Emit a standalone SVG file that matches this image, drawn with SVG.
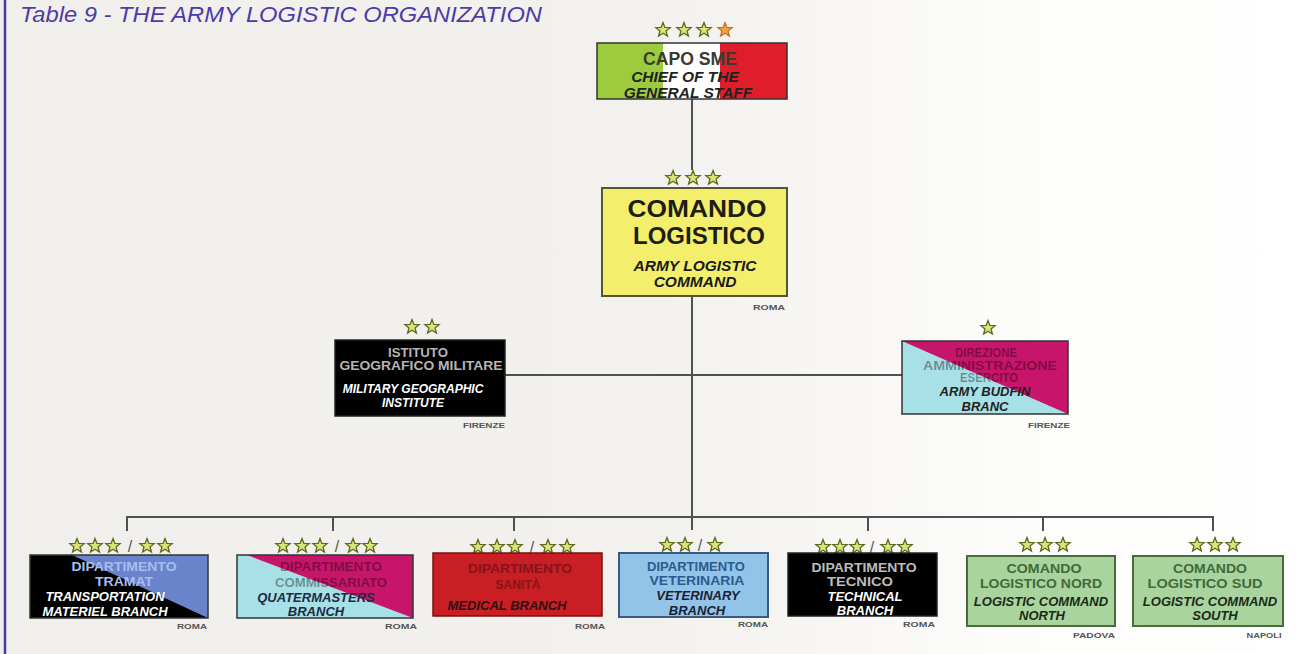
<svg xmlns="http://www.w3.org/2000/svg" xmlns:xlink="http://www.w3.org/1999/xlink" width="1300" height="654" viewBox="0 0 1300 654">
<defs>
<linearGradient id="bg" x1="0" y1="0" x2="1" y2="0">
<stop offset="0" stop-color="#f1efec"/>
<stop offset="0.5" stop-color="#f3f1ee"/>
<stop offset="0.68" stop-color="#f9f8f6"/>
<stop offset="0.8" stop-color="#fdfdfb"/>
<stop offset="1" stop-color="#ffffff"/>
</linearGradient>
<path id="st" d="M0,-7.5 L1.88,-2.59 L7.13,-2.32 L3.04,0.99 L4.41,6.07 L0,3.2 L-4.41,6.07 L-3.04,0.99 L-7.13,-2.32 L-1.88,-2.59 Z"/>
</defs>
<style>
.star{fill:#dde27a;stroke:#5b6b1e;stroke-width:1.3}
.ostar{fill:#f2a446;stroke:#c2742a;stroke-width:1.3}
.conn{stroke:#505050;stroke-width:2;fill:none}
.box{stroke:#333;stroke-width:1.5}
.en{font-family:"Liberation Sans",Arial,sans-serif;font-weight:bold;font-style:italic;text-anchor:middle}
.it{font-family:"Liberation Sans",Arial,sans-serif;font-weight:bold;text-anchor:middle}
.city{font-family:"Liberation Sans",Arial,sans-serif;font-weight:bold;font-size:7px;fill:#555;text-anchor:middle}
.sl{font-family:"Liberation Sans",Arial,sans-serif;font-size:16px;fill:#555;text-anchor:middle}
.dk{fill:#000;fill-opacity:0.38}
</style>
<rect x="0" y="0" width="1300" height="654" fill="url(#bg)"/>
<line x1="5" y1="0" x2="5" y2="654" stroke="#4a3aa0" stroke-width="2.5"/>
<text x="20" y="22" font-family="Liberation Sans,Arial,sans-serif" font-style="italic" font-size="22" fill="#4b3ca8" textLength="522" lengthAdjust="spacingAndGlyphs">Table 9 - THE ARMY LOGISTIC ORGANIZATION</text>

<g id="connectors">
<line class="conn" x1="692" y1="99" x2="692" y2="170"/>
<line class="conn" x1="692" y1="296" x2="692" y2="530"/>
<line class="conn" x1="505" y1="375" x2="902" y2="375"/>
<path class="conn" d="M127,531 V517 H1213 V531"/>
<line class="conn" x1="333" y1="517" x2="333" y2="531"/>
<line class="conn" x1="514" y1="517" x2="514" y2="531"/>
<line class="conn" x1="868" y1="517" x2="868" y2="531"/>
<line class="conn" x1="1043" y1="517" x2="1043" y2="531"/>
</g>

<g id="capo-sme">
<use href="#st" x="663" y="30" class="star"/>
<use href="#st" x="684" y="30" class="star"/>
<use href="#st" x="704" y="30" class="star"/>
<use href="#st" x="725" y="30" class="ostar"/>
<rect x="597" y="43" width="66" height="56" fill="#9dcb3e"/>
<rect x="663" y="43" width="57" height="56" fill="#ffffff"/>
<rect x="720" y="43" width="67" height="56" fill="#e01e2b"/>
<rect x="597" y="43" width="190" height="56" fill="none" class="box"/>
<text class="it" x="690" y="65" font-size="19" fill="#3a3a30" textLength="94" lengthAdjust="spacingAndGlyphs">CAPO SME</text>
<text class="en" x="685" y="82" font-size="15.5" fill="#222">CHIEF OF THE</text>
<text class="en" x="688" y="98" font-size="15.5" fill="#222">GENERAL STAFF</text>
</g>

<g id="comando-logistico">
<use href="#st" x="673" y="178" class="star"/>
<use href="#st" x="693" y="178" class="star"/>
<use href="#st" x="713" y="178" class="star"/>
<rect x="602" y="188" width="185" height="108" fill="#f3ef6c" stroke="#555530" stroke-width="2"/>
<text class="it" x="697" y="217" font-size="24" fill="#1e1e10" textLength="139" lengthAdjust="spacingAndGlyphs">COMANDO</text>
<text class="it" x="699" y="244" font-size="24" fill="#1e1e10" textLength="132" lengthAdjust="spacingAndGlyphs">LOGISTICO</text>
<text class="en" x="695" y="271" font-size="15.5" fill="#1a1a1a">ARMY LOGISTIC</text>
<text class="en" x="695" y="287" font-size="15.5" fill="#1a1a1a">COMMAND</text>
<text class="city" x="769" y="310" textLength="32" lengthAdjust="spacingAndGlyphs">ROMA</text>
</g>

<g id="istituto-geografico">
<use href="#st" x="412" y="327" class="star"/>
<use href="#st" x="432" y="327" class="star"/>
<rect x="335" y="340" width="170" height="76" fill="#000" stroke="#222" stroke-width="1.5"/>
<text class="it" x="418" y="357" font-size="12" fill="#b5b5b5" textLength="60" lengthAdjust="spacingAndGlyphs">ISTITUTO</text>
<text class="it" x="421" y="370" font-size="12" fill="#b5b5b5" textLength="163" lengthAdjust="spacingAndGlyphs">GEOGRAFICO MILITARE</text>
<text class="en" x="413" y="393" font-size="12" fill="#fff">MILITARY GEOGRAPHIC</text>
<text class="en" x="413" y="407" font-size="12" fill="#fff">INSTITUTE</text>
<text class="city" x="484" y="428" textLength="42" lengthAdjust="spacingAndGlyphs">FIRENZE</text>
</g>

<g id="direzione-amministrazione">
<use href="#st" x="988" y="328" class="star"/>
<rect x="902" y="341" width="166" height="73" fill="#a8e0e7"/>
<polygon points="902,341 1068,341 1068,414" fill="#c8156c"/>
<rect x="902" y="341" width="166" height="73" fill="none" class="box"/>
<text class="it dk" x="986" y="357" font-size="12" textLength="62" lengthAdjust="spacingAndGlyphs">DIREZIONE</text>
<text class="it dk" x="990" y="370" font-size="12" textLength="134" lengthAdjust="spacingAndGlyphs">AMMINISTRAZIONE</text>
<text class="it dk" x="989" y="382" font-size="12" textLength="58" lengthAdjust="spacingAndGlyphs">ESERCITO</text>
<text class="en" x="985" y="396" font-size="13" fill="#222">ARMY BUDFIN</text>
<text class="en" x="985" y="411" font-size="13" fill="#222">BRANC</text>
<text class="city" x="1049" y="428" textLength="42" lengthAdjust="spacingAndGlyphs">FIRENZE</text>
</g>

<g id="dipartimento-tramat">
<use href="#st" x="77" y="546" class="star"/>
<use href="#st" x="95" y="546" class="star"/>
<use href="#st" x="113" y="546" class="star"/>
<text class="sl" x="130" y="552">/</text>
<use href="#st" x="147" y="546" class="star"/>
<use href="#st" x="165" y="546" class="star"/>
<rect x="30" y="555" width="178" height="63" fill="#000"/>
<polygon points="72,555 208,555 208,618" fill="#6a84cc"/>
<rect x="30" y="555" width="178" height="63" fill="none" class="box"/>
<text class="it" x="124" y="571" font-size="12" fill="#a8bdf0" textLength="105" lengthAdjust="spacingAndGlyphs">DIPARTIMENTO</text>
<text class="it" x="124" y="586" font-size="12" fill="#a8bdf0" textLength="58" lengthAdjust="spacingAndGlyphs">TRAMAT</text>
<text class="en" x="105" y="601" font-size="13" fill="#fff">TRANSPORTATION</text>
<text class="en" x="105" y="616" font-size="13" fill="#fff">MATERIEL BRANCH</text>
<text class="city" x="192" y="629" textLength="30" lengthAdjust="spacingAndGlyphs">ROMA</text>
</g>

<g id="dipartimento-commissariato">
<use href="#st" x="283" y="546" class="star"/>
<use href="#st" x="302" y="546" class="star"/>
<use href="#st" x="320" y="546" class="star"/>
<text class="sl" x="337" y="552">/</text>
<use href="#st" x="353" y="546" class="star"/>
<use href="#st" x="370" y="546" class="star"/>
<rect x="237" y="555" width="176" height="63" fill="#a8e0e7"/>
<polygon points="247,555 413,555 413,618" fill="#c8156c"/>
<rect x="237" y="555" width="176" height="63" fill="none" class="box"/>
<text class="it dk" x="331" y="571" font-size="12" textLength="102" lengthAdjust="spacingAndGlyphs">DIPARTIMENTO</text>
<text class="it dk" x="331" y="587" font-size="12" textLength="112" lengthAdjust="spacingAndGlyphs">COMMISSARIATO</text>
<text class="en" x="316" y="602" font-size="13" fill="#1e2a40">QUATERMASTERS</text>
<text class="en" x="316" y="616" font-size="13" fill="#1e2a40">BRANCH</text>
<text class="city" x="401" y="629" textLength="32" lengthAdjust="spacingAndGlyphs">ROMA</text>
</g>

<g id="dipartimento-sanita">
<use href="#st" x="478" y="547" class="star"/>
<use href="#st" x="497" y="547" class="star"/>
<use href="#st" x="515" y="547" class="star"/>
<text class="sl" x="532" y="553">/</text>
<use href="#st" x="548" y="547" class="star"/>
<use href="#st" x="567" y="547" class="star"/>
<rect x="433" y="553" width="169" height="63" fill="#c81e24" stroke="#7a1010" stroke-width="1.5"/>
<text class="it" x="520" y="573" font-size="12" fill="#861418" textLength="104" lengthAdjust="spacingAndGlyphs">DIPARTIMENTO</text>
<text class="it" x="518" y="589" font-size="12" fill="#861418" textLength="45" lengthAdjust="spacingAndGlyphs">SANITÀ</text>
<text class="en" x="507" y="610" font-size="13" fill="#2a1010">MEDICAL BRANCH</text>
<text class="city" x="590" y="629" textLength="30" lengthAdjust="spacingAndGlyphs">ROMA</text>
</g>

<g id="dipartimento-veterinaria">
<use href="#st" x="667" y="545" class="star"/>
<use href="#st" x="685" y="545" class="star"/>
<text class="sl" x="700" y="551">/</text>
<use href="#st" x="715" y="545" class="star"/>
<rect x="619" y="553" width="149" height="64" fill="#92c4ea" stroke="#3a5a80" stroke-width="2"/>
<text class="it" x="696" y="571" font-size="12" fill="#2d5a8c" textLength="98" lengthAdjust="spacingAndGlyphs">DIPARTIMENTO</text>
<text class="it" x="697" y="585" font-size="12" fill="#2d5a8c" textLength="95" lengthAdjust="spacingAndGlyphs">VETERINARIA</text>
<text class="en" x="698" y="600" font-size="13" fill="#1a2030">VETERINARY</text>
<text class="en" x="697" y="615" font-size="13" fill="#1a2030">BRANCH</text>
<text class="city" x="753" y="627" textLength="30" lengthAdjust="spacingAndGlyphs">ROMA</text>
</g>

<g id="dipartimento-tecnico">
<use href="#st" x="823" y="547" class="star"/>
<use href="#st" x="840" y="547" class="star"/>
<use href="#st" x="857" y="547" class="star"/>
<text class="sl" x="872" y="553">/</text>
<use href="#st" x="888" y="547" class="star"/>
<use href="#st" x="905" y="547" class="star"/>
<rect x="788" y="553" width="149" height="63" fill="#000" stroke="#222" stroke-width="1.5"/>
<text class="it" x="864" y="572" font-size="12" fill="#bbbbbb" textLength="105" lengthAdjust="spacingAndGlyphs">DIPARTIMENTO</text>
<text class="it" x="860" y="586" font-size="12" fill="#bbbbbb" textLength="66" lengthAdjust="spacingAndGlyphs">TECNICO</text>
<text class="en" x="865" y="601" font-size="13" fill="#fff">TECHNICAL</text>
<text class="en" x="865" y="615" font-size="13" fill="#fff">BRANCH</text>
<text class="city" x="919" y="627" textLength="32" lengthAdjust="spacingAndGlyphs">ROMA</text>
</g>

<g id="comando-nord">
<use href="#st" x="1027" y="545" class="star"/>
<use href="#st" x="1045" y="545" class="star"/>
<use href="#st" x="1063" y="545" class="star"/>
<rect x="967" y="556" width="148" height="70" fill="#a9d49e" stroke="#4a6a40" stroke-width="2"/>
<text class="it" x="1044" y="573" font-size="12" fill="#3f6a3a" textLength="75" lengthAdjust="spacingAndGlyphs">COMANDO</text>
<text class="it" x="1041" y="588" font-size="12" fill="#3f6a3a" textLength="122" lengthAdjust="spacingAndGlyphs">LOGISTICO NORD</text>
<text class="en" x="1041" y="606" font-size="13" fill="#1a2a18">LOGISTIC COMMAND</text>
<text class="en" x="1042" y="620" font-size="13" fill="#1a2a18">NORTH</text>
<text class="city" x="1094" y="638" textLength="42" lengthAdjust="spacingAndGlyphs">PADOVA</text>
</g>

<g id="comando-sud">
<use href="#st" x="1197" y="545" class="star"/>
<use href="#st" x="1215" y="545" class="star"/>
<use href="#st" x="1233" y="545" class="star"/>
<rect x="1133" y="556" width="150" height="70" fill="#a9d49e" stroke="#4a6a40" stroke-width="2"/>
<text class="it" x="1210" y="573" font-size="12" fill="#3f6a3a" textLength="74" lengthAdjust="spacingAndGlyphs">COMANDO</text>
<text class="it" x="1205" y="588" font-size="12" fill="#3f6a3a" textLength="115" lengthAdjust="spacingAndGlyphs">LOGISTICO SUD</text>
<text class="en" x="1210" y="606" font-size="13" fill="#1a2a18">LOGISTIC COMMAND</text>
<text class="en" x="1215" y="620" font-size="13" fill="#1a2a18">SOUTH</text>
<text class="city" x="1264" y="638" textLength="35" lengthAdjust="spacingAndGlyphs">NAPOLI</text>
</g>
</svg>
